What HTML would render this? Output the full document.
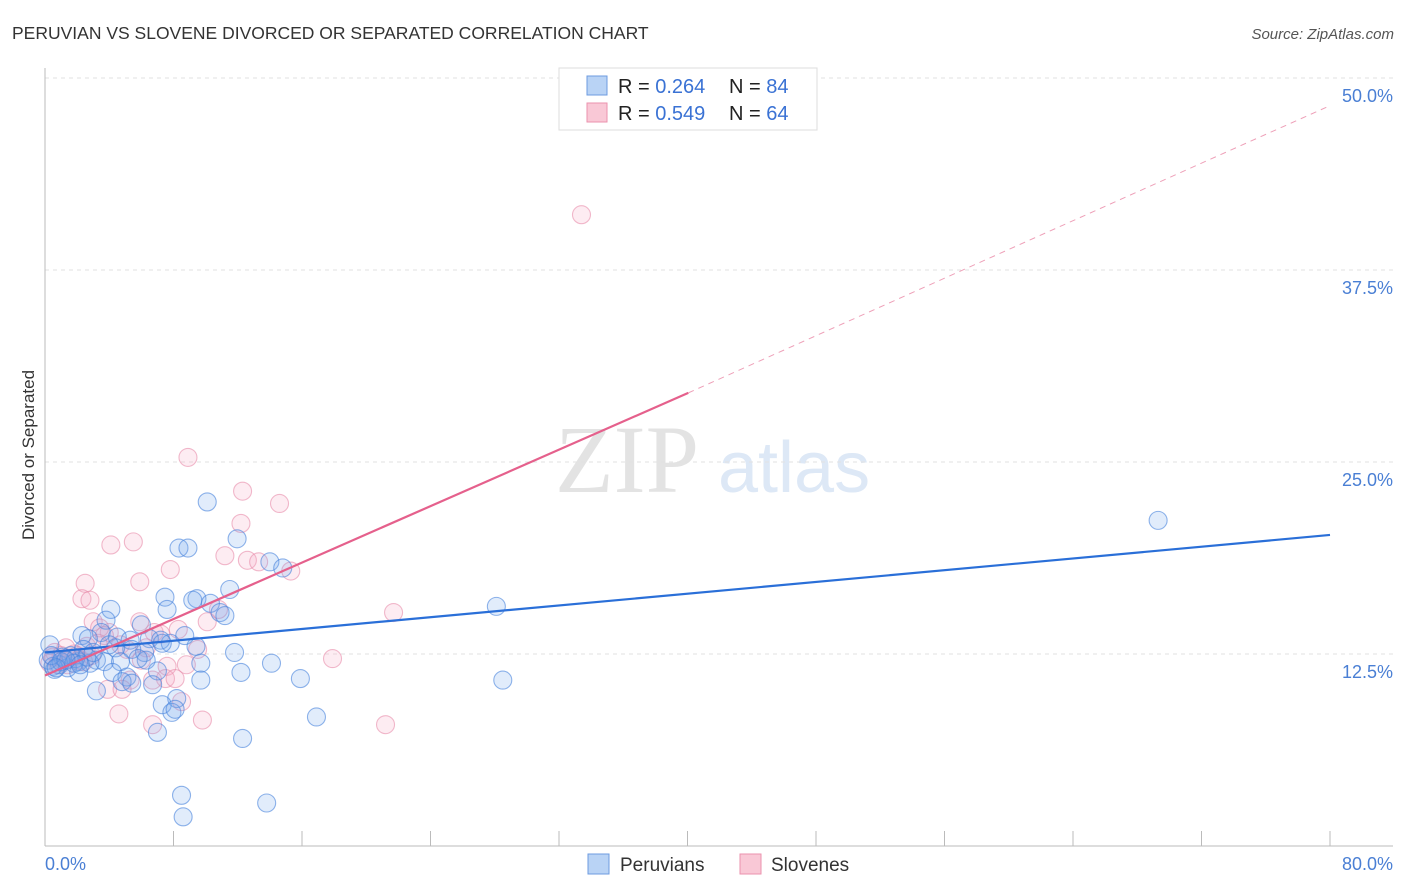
<!DOCTYPE html>
<html><head><meta charset="utf-8"><style>
body{margin:0;background:#fff;font-family:"Liberation Sans",sans-serif;}
#wrap{position:relative;width:1406px;height:892px;overflow:hidden;}
</style></head><body>
<div id="wrap">
<svg id="svg" width="1406" height="892" xmlns="http://www.w3.org/2000/svg">
<text x="12" y="39" font-size="17.5" fill="#333">PERUVIAN VS SLOVENE DIVORCED OR SEPARATED CORRELATION CHART</text>
<text x="1394" y="39" font-size="15" fill="#555" font-style="italic" text-anchor="end">Source: ZipAtlas.com</text>
<text x="555" y="492" font-size="96" fill="#e3e3e3" font-family="Liberation Serif">ZIP</text>
<text x="718" y="492" font-size="72" fill="#dde8f6">atlas</text>
<g id="grid"></g>
<g id="axes"></g>
<g id="pts"></g>
<g id="lines"></g>
<text transform="translate(34,455) rotate(-90)" font-size="17" fill="#333" text-anchor="middle">Divorced or Separated</text>
<g>
<rect x="559" y="68" width="258" height="62" fill="#fff" stroke="#ddd"/>
<rect x="587" y="76" width="20" height="19" fill="#b9d3f5" stroke="#6d9be0"/>
<rect x="587" y="103" width="20" height="19" fill="#f9c8d6" stroke="#eb92ae"/>
<text x="618" y="93" font-size="20" fill="#222">R = <tspan fill="#3a72d4">0.264</tspan></text>
<text x="729" y="93" font-size="20" fill="#222">N = <tspan fill="#3a72d4">84</tspan></text>
<text x="618" y="120" font-size="20" fill="#222">R = <tspan fill="#3a72d4">0.549</tspan></text>
<text x="729" y="120" font-size="20" fill="#222">N = <tspan fill="#3a72d4">64</tspan></text>
</g>
<g>
<rect x="588" y="854" width="21" height="20" fill="#b9d3f5" stroke="#6d9be0"/>
<text x="620" y="871" font-size="19" fill="#333">Peruvians</text>
<rect x="740" y="854" width="21" height="20" fill="#f9c8d6" stroke="#eb92ae"/>
<text x="771" y="871" font-size="19" fill="#333">Slovenes</text>
</g>
</svg>
</div>
<script>
const yTicks=[12.5,25,37.5,50];
const yTickLabels=["12.5%","25.0%","37.5%","50.0%"];
const xTickLabels=["0.0%","80.0%"];
const peruX=[10.1,11.96,8.34,8.9,14.0,14.8,11.5,7.47,9.46,9.2,10.3,4.1,7.6,10.9,11.2,3.8,6.0,3.5,2.3,4.5,2.7,6.5,7.2,5.3,9.4,7.8,11.8,6.2,5.4,4.4,0.3,3.2,3.7,4.7,6.3,9.7,14.1,0.9,2.1,2.8,1.4,0.6,4.2,7.0,12.2,2.1,5.1,15.9,9.7,28.5,4.8,6.7,5.4,3.2,8.2,7.3,7.9,8.1,16.9,7.0,12.3,8.5,13.8,8.6,28.1,69.3,1.6,2.4,1.1,0.2,1.9,4.0,5.8,8.7,7.3,0.5,1.0,2.6,3.0,1.8,0.4,1.3,2.2,0.7];
const peruY=[22.4,20.0,19.4,19.4,18.5,18.1,16.7,16.2,16.1,16.0,15.8,15.4,15.4,15.2,15.0,14.7,14.4,13.9,13.7,13.6,13.5,13.5,13.4,13.4,13.0,13.2,12.6,12.6,12.8,12.9,13.1,12.1,12.0,12.0,12.1,11.9,11.9,11.8,12.0,11.9,11.6,11.5,11.3,11.4,11.3,11.3,11.0,10.9,10.8,10.8,10.7,10.5,10.6,10.1,9.6,9.2,8.7,8.9,8.4,7.4,7.0,3.3,2.8,1.9,15.6,21.2,12.4,12.8,12.3,12.1,12.2,13.1,12.2,13.7,13.2,11.7,12.0,12.3,12.6,11.9,12.4,12.1,11.8,11.6];
const sloX=[33.4,8.9,12.3,14.6,12.2,4.1,5.5,11.2,12.6,13.3,15.3,7.8,2.5,5.9,2.3,2.8,10.8,21.7,10.1,3.0,5.9,8.3,6.8,4.0,3.4,9.5,17.9,8.8,7.6,1.1,1.6,2.0,0.6,2.6,4.7,6.3,5.3,7.5,8.1,3.9,4.8,8.5,4.6,6.7,9.8,21.2,1.4,2.1,2.9,0.8,3.7,7.2,5.1,1.3,0.3,3.3,6.0,6.7,1.0,1.8,2.4,0.5];
const sloY=[41.1,25.3,23.1,22.3,21.0,19.6,19.8,18.9,18.6,18.5,17.9,18.0,17.1,17.2,16.1,16.0,15.4,15.2,14.6,14.6,14.6,14.1,13.9,13.9,14.2,12.8,12.2,11.8,11.7,12.1,12.2,12.4,12.6,13.0,13.1,12.9,10.8,10.9,10.9,10.2,10.2,9.4,8.6,7.9,8.2,7.9,11.8,12.1,12.4,11.8,13.7,13.8,12.8,12.9,11.9,13.2,12.1,10.8,12.4,12.5,12.0,12.3];
const blueLine=[[0,12.6],[80,20.25]];
const pinkLine=[[0,11.1],[40.05,29.5],[80,48.2]];
const X0=45,X1=1330,Y0=846;
const sx=v=>X0+(X1-X0)*v/80;
const sy=v=>Y0-v*15.36;
const NS="http://www.w3.org/2000/svg";
function mk(t,a,p){const e=document.createElementNS(NS,t);for(const k in a)e.setAttribute(k,a[k]);p.appendChild(e);return e;}
const grid=document.getElementById('grid'),axes=document.getElementById('axes'),pts=document.getElementById('pts'),lines=document.getElementById('lines');
yTicks.forEach((v,i)=>{
 const l=mk('line',{x1:45,x2:1393,y1:sy(v),y2:sy(v),stroke:'#e2e2e2','stroke-dasharray':'4,4'},grid);
 
 
 const t=mk('text',{x:1393,y:sy(v)+24,'font-size':18,fill:'#4a7fd4','text-anchor':'end'},grid);
 t.textContent=yTickLabels[i];
 
 
});
const ya=mk('line',{x1:45,x2:45,y1:68,y2:846,stroke:'#bbb'},axes);


const xa=mk('line',{x1:45,x2:1393,y1:846,y2:846,stroke:'#bbb'},axes);


for(let v=8;v<=80;v+=8){
 const tk=mk('line',{x1:sx(v),x2:sx(v),y1:831,y2:846,stroke:'#bbb'},axes);
 
 
}
[[0,'start',45],[80,'end',1393]].forEach((d,i)=>{
 const t=mk('text',{x:d[2],y:870,'font-size':18,fill:'#4a7fd4','text-anchor':d[1]},axes);
 t.textContent=xTickLabels[i];
 
 
});
function dots(xs,ys,fill,stroke,name){
 xs.forEach((x,i)=>{
  const c=mk('circle',{cx:sx(x),cy:sy(ys[i]),r:9,fill:fill,stroke:stroke,'stroke-width':1.1},pts);
  
  
 });
}
dots(sloX,sloY,'rgba(244,170,195,0.22)','rgba(232,140,170,0.6)','slovene-point');
dots(peruX,peruY,'rgba(120,168,235,0.22)','rgba(70,130,220,0.6)','peruvian-point');
const bl=mk('line',{x1:sx(blueLine[0][0]),y1:sy(blueLine[0][1]),x2:sx(blueLine[1][0]),y2:sy(blueLine[1][1]),stroke:'#2a6fd8','stroke-width':2.2},lines);


const pl=mk('line',{x1:sx(pinkLine[0][0]),y1:sy(pinkLine[0][1]),x2:sx(pinkLine[1][0]),y2:sy(pinkLine[1][1]),stroke:'#e5608c','stroke-width':2.2},lines);


const pd=mk('line',{x1:sx(pinkLine[1][0]),y1:sy(pinkLine[1][1]),x2:sx(pinkLine[2][0]),y2:sy(pinkLine[2][1]),stroke:'#eea0b8','stroke-width':1,'stroke-dasharray':'6,5'},lines);


</script>
</body></html>
